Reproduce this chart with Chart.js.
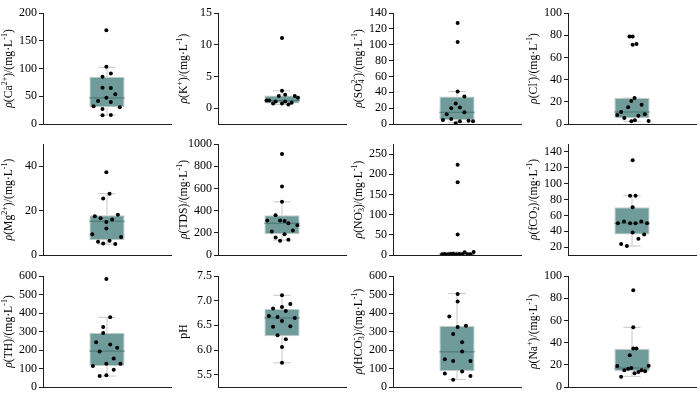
<!DOCTYPE html>
<html><head><meta charset="utf-8">
<script src="https://cdn.jsdelivr.net/npm/chart.js@4"></script>
<style>
html,body{margin:0;padding:0;background:#fff;}
#wrap{position:relative;width:700px;height:394px;overflow:hidden;background:#fff;}
.cell{position:absolute;width:175px;height:134px;}
.cell canvas{display:block;}
</style></head><body><div id="wrap"></div>
<script>
// ---------- DATA ----------
// box = [lower whisker, Q1, median, Q3, upper whisker]
const caVals = [169,103,91,85,65.5,65,53.5,41.4,47.4,39.6,31.8,30,27,15.6,16.2];
const caJit  = [.49,.49,.56,.43,.43,.56,.63,.36,.49,.56,.29,.70,.43,.43,.56];
const caBox  = [16,30,47,85,102];
const caTicks = [0,50,100,150,200];

const kVals = [11.05,2.74,0.74,2.1,1.05,1.9,1.21,1.21,0.74,1.05,0.58,0.84,1.9,1.63];
const kJit  = [.50,.50,.50,.55,.55,.45,.26,.30,.36,.40,.60,.65,.70,.75];
const kBox  = [0.58,0.74,1.2,2.0,2.74];
const kTicks = [0,5,10,15];

const so4Vals = [127.4,103.3,40.9,34.6,25.7,19.8,20.7,12.2,14.8,6.3,5.1,4.2,3.4,3.4,0.8];
const so4Jit  = [.51,.51,.51,.615,.48,.41,.545,.34,.615,.41,.28,.68,.75,.545,.48];
const so4Box  = [1.7,4.6,14.8,34.6,40.9];
const so4Ticks = [0,20,40,60,80,100,120,140];

const clVals = [78.9,78.9,71.5,72.1,23.4,20.7,17.4,15.0,10.8,8.1,8.7,7.5,5.4,3.3,2.4,2.7];
const clJit  = [.46,.51,.51,.57,.54,.49,.65,.44,.33,.27,.70,.60,.38,.545,.49,.76];
const clBox  = [2.4,5.1,10.8,23.4,23.4];
const clTicks = [0,20,40,60,80,100];

const mgVals = [37.3,27.6,25.4,17.5,18.1,16.6,16.0,14.9,11.9,9.3,8.1,6.0,6.4,5.2,4.9];
const mgJit  = [.49,.54,.44,.31,.67,.40,.58,.49,.49,.27,.72,.36,.54,.44,.63];
const mgBox  = [4.9,6.6,15.2,17.9,27.6];
const mgTicks = [0,20,40];

const tdsVals = [910,618,479,357,310,310,307,286,268,211,220,188,158,137,128];
const tdsJit  = [.50,.50,.50,.40,.27,.47,.54,.60,.74,.34,.67,.54,.40,.60,.47];
const tdsBox  = [134,188,286,357,479];
const tdsTicks = [0,200,400,600,800,1000];

const no3Vals = [223.5,180,51,2.0,2.2,1.8,2.4,3.3,1.6,2.5,1.9,6.6,1.7,2.0,7.4];
const no3Jit  = [.51,.51,.51,.27,.31,.36,.40,.44,.49,.535,.58,.62,.67,.71,.76];
const no3Box  = [0.8,0.8,2.2,6.8,7.4];
const no3Ticks = [0,50,100,150,200,250];

const fco2Vals = [129.5,84.8,84.8,70.2,50.1,52.2,50.1,50.1,52.2,50.1,38.4,35.9,30.5,23.8,21.3];
const fco2Jit  = [.51,.47,.555,.51,.28,.375,.47,.555,.645,.735,.51,.69,.60,.33,.42];
const fco2Box  = [21.3,35.9,50.1,70.2,84.8];
const fco2Ticks = [20,40,60,80,100,120,140];

const thVals = [584,377,325,292,242,230,212,192,154,126,126,113,93,63,59];
const thJit  = [.49,.55,.44,.44,.33,.55,.66,.385,.605,.49,.71,.28,.605,.49,.385];
const thBox  = [59,113,194,293,377];
const thTicks = [0,100,200,300,400,500,600];

const phVals = [7.11,6.93,6.84,6.87,6.79,6.69,6.67,6.65,6.59,6.47,6.48,6.30,6.22,6.06,5.74];
const phJit  = [.50,.63,.36,.50,.56,.295,.43,.70,.50,.36,.63,.43,.56,.50,.50];
const phBox  = [5.74,6.28,6.65,6.83,7.11];
const phTicks = [5.5,6.0,6.5,7.0,7.5];

const hco3Vals = [503,462,381,324,331,287,242,192,150,141,141,84,73,59,39];
const hco3Jit  = [.51,.51,.38,.51,.64,.44,.58,.58,.31,.44,.71,.58,.31,.71,.44];
const hco3Box  = [41,86,190,330,505];
const hco3Ticks = [0,100,200,300,400,500,600];

const naVals = [87.1,53.8,34.6,34.6,28.5,18.9,19.2,17.1,16.5,15,15,14.1,13.5,12.3,9.3];
const naJit  = [.52,.52,.52,.57,.465,.27,.76,.49,.44,.38,.65,.705,.60,.54,.33];
const naBox  = [9.6,14.1,17.1,34.5,53.8];
const naTicks = [0,20,40,60,80,100];

// axis titles: [text, style]  style: '' normal, 'i' italic, 'u' superscript, 'd' subscript, 'du' sub + sup stacked
const unit = [[')/(mg·L'],['-1','u'],[')']];
const caTitle   = [['ρ','i'],['(Ca'],['2+','u']].concat(unit);
const kTitle    = [['ρ','i'],['(K'],['+','u']].concat(unit);
const so4Title  = [['ρ','i'],['(SO'],['4','du','2-']].concat(unit);
const clTitle   = [['ρ','i'],['(Cl'],['-','u']].concat(unit);
const mgTitle   = [['ρ','i'],['(Mg'],['2+','u']].concat(unit);
const tdsTitle  = [['ρ','i'],['(TDS']].concat(unit);
const no3Title  = [['ρ','i'],['(NO'],['3','du','-']].concat(unit);
const fco2Title = [['ρ','i'],['(fCO'],['2','d']].concat(unit);
const thTitle   = [['ρ','i'],['(TH']].concat(unit);
const phTitle   = [['pH']];
const hco3Title = [['ρ','i'],['(HCO'],['3','du','-']].concat(unit);
const naTitle   = [['ρ','i'],['(Na'],['+','u']].concat(unit);

// ---------- PANELS ----------
const panels = [
  {vals:caVals,  jit:caJit,  box:caBox,  ticks:caTicks,  min:0,    max:200,  title:caTitle},
  {vals:kVals,   jit:kJit,   box:kBox,   ticks:kTicks,   min:-2.5, max:15,   title:kTitle},
  {vals:so4Vals, jit:so4Jit, box:so4Box, ticks:so4Ticks, min:0,    max:140,  title:so4Title},
  {vals:clVals,  jit:clJit,  box:clBox,  ticks:clTicks,  min:0,    max:100,  title:clTitle},
  {vals:mgVals,  jit:mgJit,  box:mgBox,  ticks:mgTicks,  min:0,    max:50,   title:mgTitle},
  {vals:tdsVals, jit:tdsJit, box:tdsBox, ticks:tdsTicks, min:0,    max:1000, title:tdsTitle},
  {vals:no3Vals, jit:no3Jit, box:no3Box, ticks:no3Ticks, min:0,    max:275,  title:no3Title},
  {vals:fco2Vals,jit:fco2Jit,box:fco2Box,ticks:fco2Ticks,min:10,   max:150,  title:fco2Title},
  {vals:thVals,  jit:thJit,  box:thBox,  ticks:thTicks,  min:0,    max:600,  title:thTitle},
  {vals:phVals,  jit:phJit,  box:phBox,  ticks:phTicks,  min:5.25, max:7.5,  title:phTitle, dec:1},
  {vals:hco3Vals,jit:hco3Jit,box:hco3Box,ticks:hco3Ticks,min:0,    max:600,  title:hco3Title},
  {vals:naVals,  jit:naJit,  box:naBox,  ticks:naTicks,  min:0,    max:100,  title:naTitle}
];

// ---------- STYLE ----------
const FONT = '"Liberation Serif", "Times New Roman", serif';
const BOX_FILL = '#6f9b9b';
const BOX_EDGE = '#c4c9c9';
const MED_COLOR = '#4c7575';
const WHISK = '#c6c6c6';
const AXIS = '#1e1e1e';
const BOX_HALF = 0.275, CAP_HALF = 0.135;
const ROW_TOP = [0, 131, 263];

Chart.defaults.font.family = FONT;

const yTitlePlugin = {
  id: 'yTitle',
  afterDraw(chart, args, opts) {
    const segs = panels[opts.idx].title;
    const ctx = chart.ctx, ca = chart.chartArea;
    const BIG = 11.7, SM = 8;
    const fontOf = (st) => {
      const small = st === 'u' || st === 'd' || st === 'du';
      return (st === 'i' ? 'italic ' : '') + (small ? SM : BIG) + 'px ' + FONT;
    };
    ctx.save();
    let total = 0;
    const widths = segs.map(s => {
      ctx.font = fontOf(s[1] || '');
      let w = ctx.measureText(s[0]).width;
      if (s[1] === 'du') w = Math.max(w, ctx.measureText(s[2]).width);
      total += w;
      return w;
    });
    ctx.translate(11.5, (ca.top + ca.bottom) / 2);
    ctx.rotate(-Math.PI / 2);
    ctx.fillStyle = '#000';
    ctx.textBaseline = 'alphabetic';
    ctx.textAlign = 'left';
    let x = -total / 2;
    segs.forEach((s, i) => {
      const st = s[1] || '';
      ctx.font = fontOf(st);
      if (st === 'u') ctx.fillText(s[0], x, -4.5);
      else if (st === 'd') ctx.fillText(s[0], x, 2.5);
      else if (st === 'du') { ctx.fillText(s[0], x, 2.5); ctx.fillText(s[2], x, -4.5); }
      else ctx.fillText(s[0], x, 0);
      x += widths[i];
    });
    ctx.restore();
  }
};

function build() {
  const wrap = document.getElementById('wrap');
  panels.forEach((p, idx) => {
    const col = idx % 4, row = Math.floor(idx / 4);
    const div = document.createElement('div');
    div.className = 'cell';
    div.style.left = (col * 175) + 'px';
    div.style.top = ROW_TOP[row] + 'px';
    const cv = document.createElement('canvas');
    cv.width = 175; cv.height = 134;
    div.appendChild(cv);
    wrap.appendChild(div);
    const [wlo, q1, med, q3, whi] = p.box;
    const seg = (a, b, color, order) => ({
      type: 'line', data: [a, b], borderColor: color, borderWidth: 1,
      pointRadius: 0, fill: false, order: order
    });
    new Chart(cv, {
      type: 'bar',
      data: {
        datasets: [
          { type: 'scatter', data: p.vals.map((v, i) => ({x: p.jit[i], y: v})),
            pointRadius: 2, pointBackgroundColor: '#000', pointBorderWidth: 0, order: 0 },
          seg({x: 0.5 - BOX_HALF, y: med}, {x: 0.5 + BOX_HALF, y: med}, MED_COLOR, 1),
          { type: 'bar', data: [{x: 0.5, y: [q1, q3]}], backgroundColor: BOX_FILL,
            borderColor: BOX_EDGE, borderWidth: 1, borderSkipped: false,
            categoryPercentage: BOX_HALF * 2, barPercentage: 1, order: 2 },
          seg({x: 0.5, y: q3}, {x: 0.5, y: whi}, WHISK, 3),
          seg({x: 0.5, y: wlo}, {x: 0.5, y: q1}, WHISK, 3),
          seg({x: 0.5 - CAP_HALF, y: whi}, {x: 0.5 + CAP_HALF, y: whi}, WHISK, 3),
          seg({x: 0.5 - CAP_HALF, y: wlo}, {x: 0.5 + CAP_HALF, y: wlo}, WHISK, 3)
        ]
      },
      options: {
        responsive: false,
        animation: false,
        devicePixelRatio: 1,
        layout: { padding: { top: 13, right: 3, bottom: 10, left: 0 } },
        plugins: { legend: { display: false }, tooltip: { enabled: false }, yTitle: { idx: idx } },
        scales: {
          x: {
            type: 'linear', min: 0, max: 1,
            afterBuildTicks: s => { s.ticks = [{value: 0}, {value: 1}]; },
            ticks: { display: false },
            grid: { display: false, drawTicks: false },
            border: { display: true, color: AXIS, width: 1 }
          },
          y: {
            type: 'linear', min: p.min, max: p.max,
            afterBuildTicks: s => { s.ticks = p.ticks.map(v => ({value: v})); },
            afterFit: s => { s.width = 43; },
            ticks: { font: { size: 12, family: FONT }, color: '#000', padding: 2,
                     autoSkip: false, maxRotation: 0,
                     callback: v => p.dec ? Number(v).toFixed(p.dec) : String(v) },
            grid: { display: true, drawOnChartArea: false, drawTicks: true, tickLength: 4, color: AXIS },
            border: { display: true, color: AXIS, width: 1 }
          }
        }
      },
      plugins: [yTitlePlugin]
    });
  });
}

let built = false;
function go() { if (!built) { built = true; build(); } }
if (document.fonts && document.fonts.load) {
  Promise.all([
    document.fonts.load('12px "Liberation Serif"'),
    document.fonts.load('italic 12px "Liberation Serif"')
  ]).then(go, go);
  setTimeout(go, 1500);
} else { go(); }
</script></body></html>
